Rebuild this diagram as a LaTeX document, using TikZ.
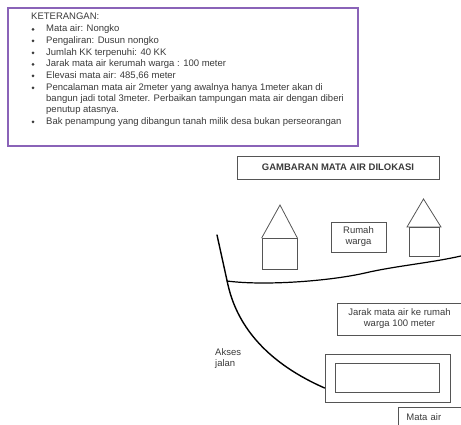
\documentclass[tikz,border=0pt]{standalone}
\usepackage{fontspec}
\setmainfont{Liberation Sans}
\definecolor{ketpurple}{HTML}{8A63B8}
\definecolor{inkgray}{HTML}{3A3A3A}
\definecolor{boxgray}{HTML}{555555}
\begin{document}
\begin{tikzpicture}[x=1pt,y=-1pt,
  txt/.style={inner sep=0pt,text=inkgray,font=\fontsize{9.5}{11.4}\selectfont},
  lbl/.style={draw=boxgray,line width=.8pt,text=inkgray,align=center,inner sep=0pt,font=\fontsize{9.5}{11}\selectfont},
  shapeline/.style={draw=boxgray,line width=.8pt},
  curveline/.style={draw=black,line width=1.4pt,line cap=round},
  bul/.style={circle,fill=inkgray,inner sep=0pt,minimum size=3pt}]
\useasboundingbox (0,0) rectangle (461,425);
% keterangan panel
\node[draw=ketpurple,line width=1.7pt,minimum width=350pt,minimum height=138pt,inner sep=0pt] (panel) at (183,77) {};
\node[txt,anchor=west] (head) at (31,16.5) {KETERANGAN:};
\foreach \nm/\yy/\tx in {a/29.5/Mata air: Nongko,
  b/41/Pengaliran: Dusun nongko,
  c/53/Jumlah KK terpenuhi: 40 KK,
  d/64.5/Jarak mata air kerumah warga : 100 meter,
  e/76/Elevasi mata air: 485{,}66 meter,
  f/122/Bak penampung yang dibangun tanah milik desa bukan perseorangan}{
  \node[bul] (bul\nm) at (33,\yy) {};
  \node[txt,anchor=west] (item\nm) at (46,\yy) {\tx};
}
\node[bul] (bulg) at (33,88) {};
\node[txt,anchor=north west,align=left] (itemg) at (46,83) {Pencalaman mata air 2meter yang awalnya hanya 1meter akan di\\bangun jadi total 3meter. Perbaikan tampungan mata air dengan diberi\\penutup atasnya.};
% title
\node[lbl,minimum width=202pt,minimum height=23pt,font=\fontsize{9.5}{10}\selectfont\bfseries] (title) at (338,167.5) {GAMBARAN MATA AIR DILOKASI};
% left house
\node[shapeline,draw,minimum width=35pt,minimum height=31pt,inner sep=0pt] (h1) at (279.5,254) {};
\coordinate (h1top) at (280,205);
\draw[shapeline] (h1.north west) -- (h1top) -- (h1.north east);
% right house
\node[shapeline,draw,minimum width=30pt,minimum height=29pt,inner sep=0pt] (h2) at (424,241.5) {};
\coordinate (h2top) at (423.5,199);
\coordinate (h2l) at (407,227);
\coordinate (h2r) at (441,227);
\draw[shapeline] (h2l) -- (h2top) -- (h2r) -- cycle;
% labels
\node[lbl,minimum width=55pt,minimum height=30pt] (rumah) at (358.5,237) {Rumah\\warga};
\node[lbl,minimum width=125pt,minimum height=32pt] (jarak) at (399.5,319) {Jarak mata air ke rumah\\warga 100 meter};
% spring
\node[shapeline,draw,minimum width=125pt,minimum height=48pt,inner sep=0pt] (outer) at (387.5,378) {};
\node[shapeline,draw,line width=1pt,minimum width=104pt,minimum height=29pt,inner sep=0pt] (inner) at (387,377.5) {};
\node[lbl,anchor=north west,align=left,text width=56pt,inner xsep=8pt,inner ysep=0pt,minimum height=19pt] (mata) at (398,407) {Mata air};
% access road label
\node[txt,anchor=west,align=left,font=\fontsize{9.5}{11}\selectfont] (akses) at (215,359) {Akses\\jalan};
% road curves
\coordinate (r0) at (217,235);
\coordinate (r1) at (228,285);
\coordinate (w1) at (227,281);
\coordinate (w2) at (461,256);
\draw[curveline] (r0) -- (r1) .. controls (238,329) and (270,364) .. (outer.west |- 0,388);
\draw[curveline,line width=1.2pt] (w1) .. controls (265,286) and (330,281) .. (365,273) .. controls (395,266) and (430,263) .. (w2);
\end{tikzpicture}
\end{document}
